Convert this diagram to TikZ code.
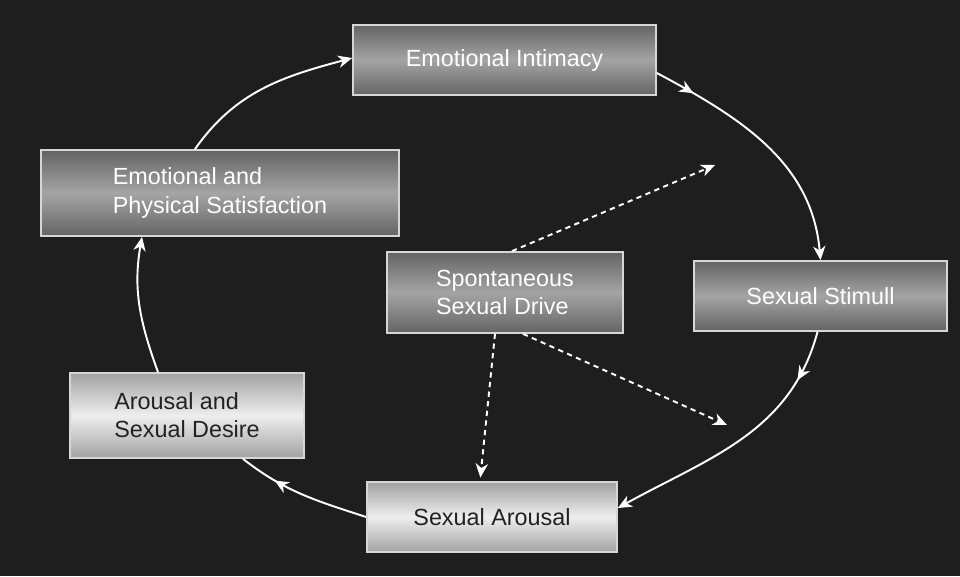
\documentclass[tikz,border=0pt]{standalone}
\usepackage{fontspec}
\setmainfont{Liberation Sans}
\usetikzlibrary{arrows.meta,decorations.markings}
\definecolor{bgcol}{HTML}{1E1E1E}
\definecolor{darktop}{HTML}{646464}
\definecolor{darkmid}{HTML}{A4A4A4}
\definecolor{lighttop}{HTML}{A2A2A2}
\definecolor{lightmid}{HTML}{EEEEEE}
\definecolor{rim}{HTML}{D6D6D6}
\definecolor{inktext}{HTML}{222222}

\begin{document}
\begin{tikzpicture}[x=0.02cm, y=0.02cm,
  box/.style={rectangle, draw=rim, line width=1pt, align=left, inner sep=0pt},
  dark box/.style={box, top color=darktop, bottom color=darktop, middle color=darkmid, text=white},
  light box/.style={box, top color=lighttop, bottom color=lighttop, middle color=lightmid, text=inktext},
  cycle line/.style={draw=white, line width=1.1pt},
  cycle arrow/.style={cycle line, -{Stealth[length=8pt,width=7pt,inset=2.5pt]}},
  drive arrow/.style={cycle arrow, dash pattern=on 3pt off 2.5pt},
  mid tip/.style={postaction={decorate}, decoration={markings,
    mark=at position #1 with {\arrow{Stealth[length=8pt,width=7pt,inset=2.5pt]}}}}]
  \tikzstyle{every node}=[font=\fontsize{13.3}{16}\selectfont]

  \fill[bgcol] (0,0) rectangle (960,576);

  \node[dark box, minimum width=6.06cm, minimum height=1.4cm] (1) at (504.5,516) {Emotional Intimacy};
  \node[dark box, minimum width=5.06cm, minimum height=1.4cm] (2) at (820.5,280) {Sexual Stimull};
  \node[light box, minimum width=5cm, minimum height=1.4cm] (3) at (492,59) {Sexual Arousal};
  \node[light box, minimum width=4.68cm, minimum height=1.7cm] (4) at (187,160.5) {Arousal and\\Sexual Desire};
  \node[dark box, minimum width=7.16cm, minimum height=1.72cm] (5) at (220,383) {Emotional and\\Physical Satisfaction};
  \node[dark box, minimum width=4.72cm, minimum height=1.62cm] (6) at (505,283.5) {Spontaneous\\Sexual Drive};

  \coordinate (7) at (715,411);
  \coordinate (8) at (727,151);

  % the cycle
  \draw[cycle arrow] ([xshift=-0.5cm]5.north) to[out=55,in=195] ([yshift=0.04cm]1.west);
  \draw[cycle arrow, mid tip=0.16] ([yshift=-0.26cm]1.east) to[out=-28,in=95] (2.north);
  \draw[cycle arrow, mid tip=0.19] ([xshift=-0.06cm]2.south) to[out=-105,in=29] ([yshift=0.18cm]3.east);
  \draw[cycle line, mid tip=0.72] (3.west) to[out=162,in=-38] ([xshift=1.12cm]4.south);
  \draw[cycle arrow] ([xshift=-0.58cm]4.north) to[out=110,in=-100] ([xshift=-1.56cm]5.south);

  % spontaneous drive
  \draw[drive arrow] ([xshift=0.14cm]6.north) -- (7);
  \draw[drive arrow] ([xshift=0.36cm]6.south) -- (8);
  \draw[drive arrow, shorten >=2pt] ([xshift=-0.2cm]6.south) -- ([xshift=-0.24cm]3.north);
\end{tikzpicture}
\end{document}
